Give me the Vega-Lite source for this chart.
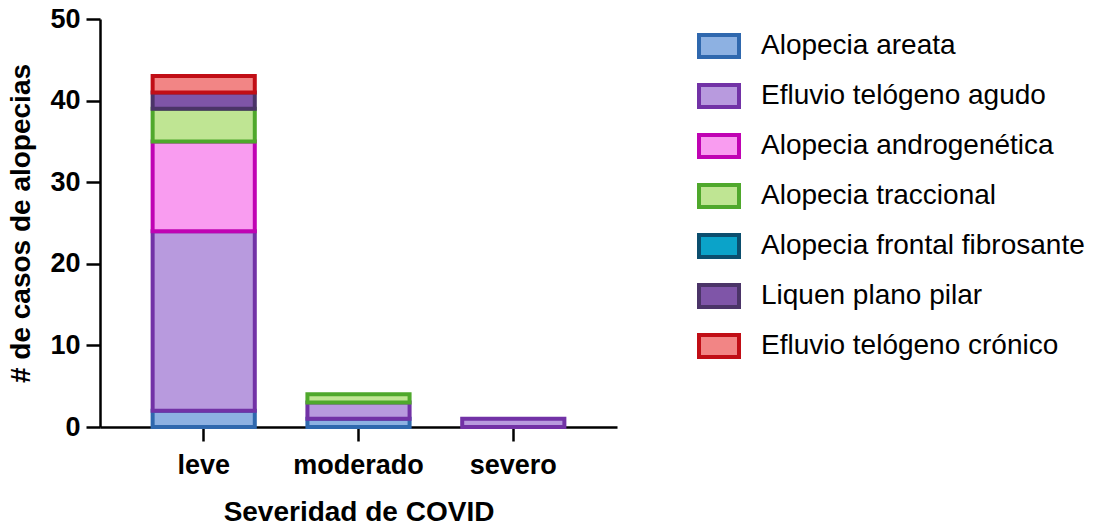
{
  "$schema": "https://vega.github.io/schema/vega-lite/v6.json",
  "width": 517,
  "height": 408,
  "autosize": {"type": "none"},
  "padding": {"left": 100, "top": 19, "right": 480, "bottom": 102},
  "background": "white",
  "config": {
    "view": {"stroke": null},
    "font": "Liberation Sans",
    "axis": {
      "domainColor": "black",
      "domainWidth": 2.5,
      "tickColor": "black",
      "tickWidth": 2.5,
      "tickSize": 14,
      "labelColor": "black",
      "labelFont": "Liberation Sans",
      "labelFontWeight": "bold",
      "labelFontSize": 27,
      "titleColor": "black",
      "titleFont": "Liberation Sans",
      "titleFontWeight": "bold",
      "titleFontSize": 28,
      "grid": false
    },
    "legend": {
      "labelFont": "Liberation Sans",
      "labelFontSize": 28,
      "labelColor": "black"
    }
  },
  "data": {
    "values": [
      {"sev": "leve", "tipo": "Alopecia areata", "k": 1, "n": 2},
      {"sev": "leve", "tipo": "Efluvio telógeno agudo", "k": 2, "n": 22},
      {"sev": "leve", "tipo": "Alopecia androgenética", "k": 3, "n": 11},
      {"sev": "leve", "tipo": "Alopecia traccional", "k": 4, "n": 4},
      {"sev": "leve", "tipo": "Liquen plano pilar", "k": 6, "n": 2},
      {"sev": "leve", "tipo": "Efluvio telógeno crónico", "k": 7, "n": 2},
      {"sev": "moderado", "tipo": "Alopecia areata", "k": 1, "n": 1},
      {"sev": "moderado", "tipo": "Efluvio telógeno agudo", "k": 2, "n": 2},
      {"sev": "moderado", "tipo": "Alopecia traccional", "k": 4, "n": 1},
      {"sev": "severo", "tipo": "Efluvio telógeno agudo", "k": 2, "n": 1}
    ]
  },
  "mark": {"type": "bar", "strokeWidth": 4, "opacity": 1},
  "encoding": {
    "x": {
      "field": "sev",
      "type": "nominal",
      "sort": ["leve", "moderado", "severo"],
      "scale": {"paddingInner": 0.34, "paddingOuter": 0.34},
      "axis": {"labelAngle": 0, "labelPadding": 11, "titlePadding": 20, "title": "Severidad de COVID"}
    },
    "y": {
      "field": "n",
      "type": "quantitative",
      "stack": "zero",
      "scale": {"domain": [0, 50], "nice": false},
      "axis": {"values": [0, 10, 20, 30, 40, 50], "labelPadding": 6, "titlePadding": 14, "title": "# de casos de alopecias"}
    },
    "order": {"field": "k", "type": "quantitative"},
    "fill": {
      "field": "tipo",
      "type": "nominal",
      "scale": {
        "domain": ["Alopecia areata", "Efluvio telógeno agudo", "Alopecia androgenética", "Alopecia traccional", "Alopecia frontal fibrosante", "Liquen plano pilar", "Efluvio telógeno crónico"],
        "range": ["#8DB1E2", "#B89ADE", "#F99CF0", "#BFE593", "#0BA3C9", "#7F55A8", "#F28585"]
      },
      "legend": {
        "title": null,
        "orient": "none",
        "legendX": 597,
        "legendY": 5,
        "symbolType": "M-1,-0.55H1V0.55H-1Z",
        "symbolSize": 1600,
        "symbolStrokeWidth": 4,
        "symbolOpacity": 1,
        "labelOffset": 20,
        "rowPadding": 9,
        "labelLimit": 500
      }
    },
    "stroke": {
      "field": "tipo",
      "type": "nominal",
      "scale": {
        "domain": ["Alopecia areata", "Efluvio telógeno agudo", "Alopecia androgenética", "Alopecia traccional", "Alopecia frontal fibrosante", "Liquen plano pilar", "Efluvio telógeno crónico"],
        "range": ["#2F68AE", "#7232A6", "#C003B3", "#4FA82C", "#0B4E6E", "#4B3468", "#C10E16"]
      },
      "legend": {
        "title": null,
        "orient": "none",
        "legendX": 597,
        "legendY": 5,
        "symbolType": "M-1,-0.55H1V0.55H-1Z",
        "symbolSize": 1600,
        "symbolStrokeWidth": 4,
        "symbolOpacity": 1,
        "labelOffset": 20,
        "rowPadding": 9,
        "labelLimit": 500
      }
    }
  }
}
